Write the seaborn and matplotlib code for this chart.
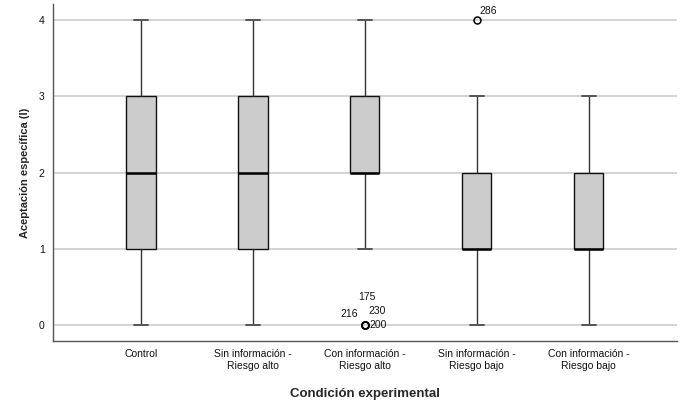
import numpy as np
import pandas as pd
import matplotlib
matplotlib.use("Agg")
import matplotlib.pyplot as plt
import seaborn as sns

# --- data ---
groups = ["Control", "Sin información -\nRiesgo alto", "Con información -\nRiesgo alto",
          "Sin información -\nRiesgo bajo", "Con información -\nRiesgo bajo"]
scores = [0, 1, 2, 3, 4]
# number of cases per score (0..4) in each group, chosen to give the drawn quartiles
counts_control = [4, 9, 12, 12, 4]
counts_sin_alto = [5, 8, 12, 12, 4]
counts_con_alto = [4, 2, 16, 16, 3]
counts_sin_bajo = [6, 16, 12, 6, 1]
counts_con_bajo = [6, 16, 12, 7, 0]

# case numbers printed next to the outliers: (group index, value, labels)
outlier_cases = [
    (2, 0, ["200", "216", "230", "175"]),
    (3, 4, ["286"]),
]

all_counts = [counts_control, counts_sin_alto, counts_con_alto, counts_sin_bajo, counts_con_bajo]
rows = []
for g, cnt in zip(groups, all_counts):
    for s, c in zip(scores, cnt):
        rows += [{"Condición": g, "Aceptación": s}] * c
df = pd.DataFrame(rows)

sns.set_style("white")
plt.rcParams["font.family"] = ["Liberation Sans", "DejaVu Sans"]

fig = plt.figure(figsize=(6.85, 4.03), dpi=100)
ax = fig.add_axes([0.0774, 0.1538, 0.9106, 0.8362])

sns.boxplot(data=df, x="Condición", y="Aceptación", order=groups, ax=ax,
            width=0.26, color="#cccccc", linecolor="#222222", linewidth=1.0,
            fliersize=5,
            boxprops=dict(facecolor="#cccccc", edgecolor="#111111", linewidth=1.0),
            medianprops=dict(color="black", linewidth=1.8),
            whiskerprops=dict(color="#333333", linewidth=1.0),
            capprops=dict(color="#555555", linewidth=1.4),
            flierprops=dict(marker="o", markerfacecolor="none", markeredgecolor="black",
                            markeredgewidth=1.1))

ax.set_ylim(-0.21, 4.21)
ax.set_xlim(-0.786, 4.786)
ax.set_yticks([0, 1, 2, 3, 4])
ax.yaxis.grid(True, color="#d4d4d4", linewidth=1.4, zorder=0)
ax.set_axisbelow(True)
for side in ["top", "right"]:
    ax.spines[side].set_visible(False)
for side in ["left", "bottom"]:
    ax.spines[side].set_color("#555555")
    ax.spines[side].set_linewidth(1.0)
ax.tick_params(axis="both", length=0, labelsize=7.5, colors="#111111")
ax.tick_params(axis="y", pad=6)
ax.tick_params(axis="x", pad=6)

ax.set_xlabel("Condición experimental", fontsize=9.5, fontweight="bold", labelpad=12.5)
ax.set_ylabel("Aceptación específica (I)", fontsize=8, fontweight="bold", labelpad=6)

# offsets in pixels for case labels, as placed by SPSS
offsets = {"200": (5, 0, "left"), "216": (-7, 11, "right"), "230": (4, 14, "left"),
           "175": (2, 28, "center"), "286": (3, 9, "left")}
for gi, val, labels in outlier_cases:
    for lab in labels:
        dx, dy, ha = offsets[lab]
        ax.annotate(lab, xy=(gi, val), xytext=(dx, dy), textcoords="offset pixels",
                    ha=ha, va="center", fontsize=7.5, color="#111111")

fig.savefig("out.png", dpi=100)
